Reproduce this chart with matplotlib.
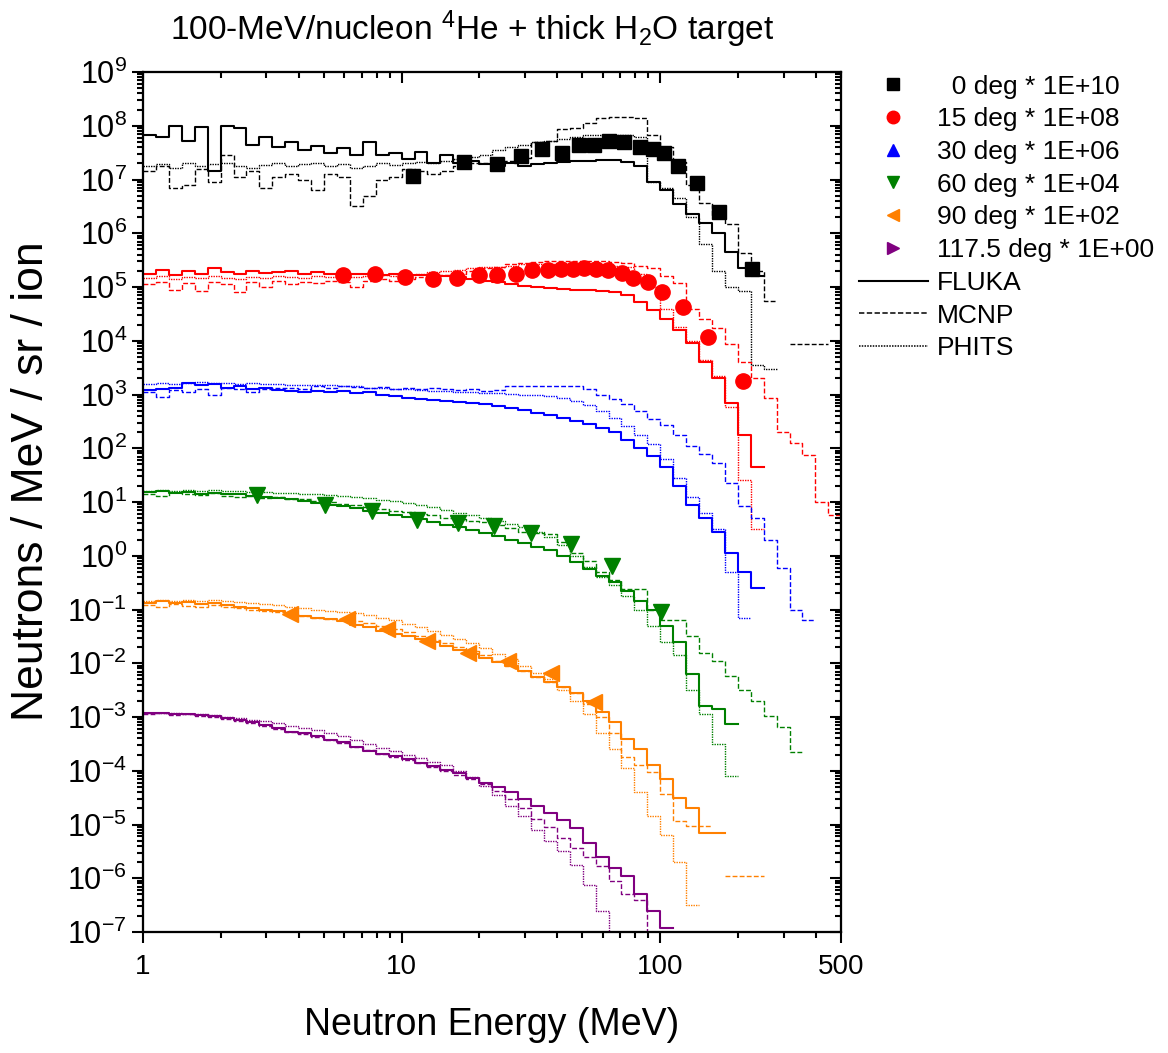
import numpy as np
import matplotlib
matplotlib.use("Agg")
import matplotlib.pyplot as plt
from matplotlib.lines import Line2D
from matplotlib.ticker import FixedLocator, FixedFormatter, LogLocator, NullFormatter, LogFormatterSciNotation

plt.rcParams["font.family"] = "Liberation Sans"
plt.rcParams["mathtext.fontset"] = "custom"
plt.rcParams["mathtext.rm"] = "Liberation Sans"
plt.rcParams["mathtext.default"] = "regular"

nan = np.nan

# histogram bin edges, 20 bins per decade from 1 MeV to 500 MeV
edges = np.logspace(0, 2.7, 55)

# log10 of the plotted spectra (already multiplied by the angle factor)
fluka_00 = [7.83, 7.80, 8.00, 7.72, 7.98, 7.15, 8.00, 7.95, 7.65, 7.80,
            7.60, 7.70, 7.55, 7.62, 7.50, 7.58, 7.45, 7.70, 7.45, 7.50,
            7.38, 7.52, 7.30, 7.45, 7.30, 7.35, 7.28, 7.25, 7.30, 7.25,
            7.28, 7.30, 7.32, 7.35, 7.35, 7.37, 7.37, 7.33, 7.25, 6.95,
            6.80, 6.55, 6.35, 6.20, 6.00, 5.65, 5.35, 5.20]
mcnp_00 = [7.15, 7.25, 6.85, 6.90, 7.20, 6.95, 7.45, 7.05, 7.15, 6.85,
           7.05, 7.10, 7.00, 6.80, 7.10, 7.05, 6.50, 6.70, 7.00, 7.05,
           7.20, 7.15, 7.10, 7.15, 7.25, 7.30, 7.30, 7.35, 7.35, 7.40,
           7.70, 7.72, 7.94, 7.95, 8.05, 8.15, 8.17, 8.17, 8.15, 7.83,
           7.60, 7.33, 6.90, 6.56, 6.30, 6.17, 5.63, 5.30, 4.74, nan,
           3.94, 3.94, 3.94]
phits_00 = [7.25, 7.28, 7.22, 7.30, 7.25, 7.28, 7.30, 7.25, 7.22, 7.27,
            7.30, 7.25, 7.28, 7.30, 7.26, 7.28, 7.22, 7.25, 7.30, 7.27,
            7.30, 7.32, 7.30, 7.35, 7.38, 7.42, 7.45, 7.55, 7.60, 7.65,
            7.70, 7.72, 7.75, 7.80, 7.82, 7.83, 7.83, 7.82, 7.80, 6.95,
            6.85, 6.65, 6.30, 5.80, 5.30, 5.00, 4.93, 3.54, 3.48]

fluka_15 = [5.25, 5.32, 5.22, 5.30, 5.25, 5.35, 5.28, 5.25, 5.30, 5.26,
            5.28, 5.30, 5.24, 5.27, 5.25, 5.26, 5.24, 5.25, 5.23, 5.24,
            5.22, 5.22, 5.20, 5.20, 5.18, 5.15, 5.12, 5.10, 5.05, 5.02,
            5.00, 4.98, 4.96, 4.95, 4.95, 4.93, 4.90, 4.86, 4.72, 4.58,
            4.40, 4.20, 3.95, 3.60, 3.30, 2.85, 2.25, 1.65]
mcnp_15 = [5.05, 5.10, 4.95, 5.08, 4.92, 5.10, 5.05, 4.90, 5.10, 5.00,
           5.12, 5.05, 5.10, 5.08, 5.12, 5.10, 5.00, 5.12, 5.15, 5.12,
           5.15, 5.18, 5.20, 5.22, 5.25, 5.30, 5.35, 5.38, 5.42, 5.45,
           5.47, 5.48, 5.48, 5.48, 5.48, 5.48, 5.47, 5.45, 5.40, 5.35,
           5.20, 5.07, 4.59, 4.40, 4.24, 3.94, 3.60, 3.30, 2.94, 2.30,
           2.10, 1.87, 1.00, 0.76]
phits_15 = [5.17, 5.20, 5.15, 5.18, 5.16, 5.20, 5.17, 5.15, 5.18, 5.17,
            5.20, 5.18, 5.17, 5.20, 5.18, 5.20, 5.19, 5.20, 5.22, 5.20,
            5.22, 5.25, 5.28, 5.30, 5.32, 5.35, 5.37, 5.38, 5.40, 5.42,
            5.43, 5.43, 5.43, 5.43, 5.42, 5.42, 5.40, 5.37, 5.25, 5.00,
            4.60, 4.25, 4.00, 3.65, 3.35, 2.76, 1.41, 0.50]

fluka_30 = [3.08, 3.10, 3.12, 3.22, 3.18, 3.20, 3.12, 3.15, 3.10, 3.12,
            3.08, 3.07, 3.05, 3.07, 3.05, 3.06, 3.03, 3.04, 3.00, 2.97,
            2.94, 2.92, 2.90, 2.88, 2.86, 2.84, 2.82, 2.78, 2.75, 2.71,
            2.66, 2.61, 2.56, 2.50, 2.45, 2.38, 2.30, 2.15, 2.00, 1.85,
            1.65, 1.30, 0.95, 0.70, 0.45, 0.05, -0.30, -0.60]
mcnp_30 = [3.05, 2.95, 3.08, 3.05, 3.10, 3.00, 3.12, 3.10, 3.05, 3.10,
           3.12, 3.13, 3.10, 3.15, 3.12, 3.15, 3.14, 3.12, 3.14, 3.10,
           3.12, 3.10, 3.12, 3.10, 3.08, 3.10, 3.07, 3.08, 3.15, 3.15,
           3.15, 3.15, 3.15, 3.15, 3.10, 3.00, 2.91, 2.82, 2.70, 2.55,
           2.43, 2.25, 2.05, 1.90, 1.72, 1.35, 0.93, 0.70, 0.30, -0.22,
           -1.00, -1.20]
phits_30 = [3.20, 3.22, 3.20, 3.22, 3.23, 3.22, 3.22, 3.20, 3.22, 3.20,
            3.20, 3.18, 3.18, 3.17, 3.17, 3.15, 3.15, 3.13, 3.12, 3.10,
            3.10, 3.08, 3.07, 3.06, 3.05, 3.04, 3.03, 3.02, 3.01, 3.00,
            2.99, 2.97, 2.93, 2.88, 2.80, 2.70, 2.57, 2.42, 2.25, 2.07,
            1.80, 1.45, 1.10, 0.80, 0.50, -0.30, -1.15]

fluka_60 = [1.18, 1.20, 1.17, 1.19, 1.15, 1.17, 1.14, 1.15, 1.12, 1.10,
            1.08, 1.05, 1.02, 0.98, 0.95, 0.92, 0.88, 0.83, 0.80, 0.76,
            0.72, 0.68, 0.63, 0.58, 0.53, 0.48, 0.42, 0.36, 0.30, 0.24,
            0.17, 0.10, 0.00, -0.12, -0.25, -0.37, -0.48, -0.65, -0.85, -1.00,
            -1.30, -1.60, -2.20, -2.80, -2.85, -3.13]
mcnp_60 = [1.15, 1.12, 1.18, 1.15, 1.13, 1.16, 1.12, 1.10, 1.12, 1.08,
           1.10, 1.06, 1.05, 1.02, 1.00, 0.97, 0.95, 0.90, 0.87, 0.84,
           0.81, 0.78, 0.75, 0.71, 0.68, 0.65, 0.62, 0.57, 0.52, 0.45,
           0.43, 0.40, 0.25, 0.06, -0.10, -0.31, -0.45, -0.61, -0.62, -1.00,
           -1.19, -1.19, -1.50, -1.80, -1.95, -2.24, -2.50, -2.70, -2.98, -3.19,
           -3.65]
phits_60 = [1.20, 1.22, 1.20, 1.23, 1.20, 1.22, 1.20, 1.20, 1.18, 1.18,
            1.17, 1.16, 1.15, 1.14, 1.13, 1.12, 1.10, 1.07, 1.04, 1.01,
            0.98, 0.94, 0.90, 0.85, 0.80, 0.75, 0.70, 0.65, 0.60, 0.54,
            0.45, 0.35, 0.20, 0.00, -0.20, -0.40, -0.55, -0.75, -1.00, -1.30,
            -1.60, -1.85, -2.50, -2.95, -3.50, -4.10]

fluka_90 = [-0.87, -0.85, -0.88, -0.86, -0.90, -0.88, -0.92, -0.95, -0.97, -1.00,
            -1.02, -1.08, -1.13, -1.15, -1.18, -1.22, -1.28, -1.33, -1.40, -1.45,
            -1.50, -1.55, -1.60, -1.68, -1.75, -1.83, -1.90, -1.98, -2.06, -2.15,
            -2.25, -2.35, -2.45, -2.55, -2.70, -2.90, -3.10, -3.40, -3.60, -3.90,
            -4.15, -4.50, -4.70, -5.15, -5.15]
mcnp_90 = [-0.92, -0.95, -0.90, -0.93, -0.95, -0.92, -0.96, -0.98, -1.00, -1.03,
           -1.05, -1.08, -1.12, -1.15, -1.18, -1.20, -1.22, -1.25, -1.30, -1.36,
           -1.42, -1.50, -1.56, -1.62, -1.70, -1.78, -1.85, -1.95, -2.05, -2.15,
           -2.25, -2.35, -2.45, -2.55, -2.75, -3.00, -3.30, -3.74, -3.90, -4.02,
           -4.43, -4.93, -5.02, -5.02, nan, -5.96, -5.96, -5.96]
phits_90 = [-0.84, -0.83, -0.85, -0.82, -0.84, -0.83, -0.85, -0.86, -0.88, -0.90,
            -0.92, -0.95, -0.97, -1.00, -1.03, -1.05, -1.07, -1.10, -1.15, -1.20,
            -1.27, -1.33, -1.40, -1.47, -1.55, -1.62, -1.72, -1.82, -1.93, -2.05,
            -2.18, -2.30, -2.50, -2.70, -2.95, -3.30, -3.60, -3.95, -4.40, -4.85,
            -5.20, -5.69, -6.50]

fluka_117 = [-2.93, -2.92, -2.95, -2.94, -2.97, -2.98, -3.02, -3.05, -3.10, -3.15,
             -3.20, -3.27, -3.30, -3.36, -3.42, -3.46, -3.55, -3.63, -3.68, -3.73,
             -3.78, -3.85, -3.92, -3.98, -4.05, -4.13, -4.22, -4.30, -4.40, -4.52,
             -4.65, -4.78, -4.92, -5.07, -5.35, -5.60, -5.80, -5.96, -6.30, -6.60,
             -6.93]
mcnp_117 = [-2.95, -2.93, -2.96, -2.95, -2.98, -3.00, -3.03, -3.07, -3.12, -3.16,
            -3.22, -3.27, -3.31, -3.37, -3.43, -3.49, -3.55, -3.62, -3.68, -3.74,
            -3.80, -3.86, -3.93, -4.00, -4.08, -4.15, -4.25, -4.37, -4.52, -4.70,
            -4.89, -5.05, -5.25, -5.44, -5.60, -5.78, -6.06, -6.30, -6.41, -7.10]
phits_117 = [-2.92, -2.93, -2.92, -2.95, -2.95, -2.97, -3.00, -3.02, -3.05, -3.08,
             -3.12, -3.16, -3.20, -3.25, -3.30, -3.35, -3.42, -3.50, -3.57, -3.64,
             -3.70, -3.77, -3.83, -3.90, -4.00, -4.12, -4.28, -4.45, -4.65, -4.85,
             -5.10, -5.30, -5.50, -5.76, -6.13, -6.60, -7.10]

# measured points (energy in MeV, log10 of plotted value)
exp00_e = [11.1, 17.4, 23.4, 29.0, 35.0, 41.8, 48.6, 55.6, 63.5, 72.6, 83.7, 94.0,
           103.6, 117.4, 139.0, 169.0, 227.0]
exp00_y = [7.06, 7.33, 7.28, 7.44, 7.56, 7.50, 7.65, 7.65, 7.72, 7.69, 7.61, 7.57,
           7.50, 7.26, 6.93, 6.39, 5.33]
exp15_e = [5.94, 7.9, 10.3, 13.2, 16.4, 19.9, 23.4, 27.7, 32.0, 36.9, 41.4, 46.0,
           50.8, 56.5, 62.9, 71.3, 78.6, 89.9, 101.8, 122.7, 153.4, 209.5]
exp15_y = [5.22, 5.24, 5.19, 5.15, 5.17, 5.22, 5.22, 5.24, 5.31, 5.31, 5.33, 5.33,
           5.35, 5.33, 5.31, 5.26, 5.17, 5.09, 4.91, 4.63, 4.07, 3.26]
exp60_e = [2.76, 5.06, 7.69, 11.5, 16.5, 22.8, 31.7, 45.3, 65.2, 100.9]
exp60_y = [1.13, 0.94, 0.83, 0.67, 0.61, 0.56, 0.43, 0.22, -0.19, -1.04]
exp90_e = [3.7, 6.15, 8.79, 12.55, 18.1, 25.8, 37.9, 55.6]
exp90_y = [-1.09, -1.17, -1.37, -1.59, -1.80, -1.96, -2.19, -2.72]

angles = ["  0 deg * 1E+10", "15 deg * 1E+08", "30 deg * 1E+06",
          "60 deg * 1E+04", "90 deg * 1E+02", "117.5 deg * 1E+00"]
colors = ["#000000", "#FF0000", "#0000FF", "#008000", "#FF8000", "#800080"]
markers = ["s", "o", "^", "v", "<", ">"]

fig = plt.figure(figsize=(11.68, 10.53), dpi=100)
ax = fig.add_axes([143 / 1168, 1 - 932 / 1053, 698 / 1168, 860 / 1053])


def hist(vals, color, ls, lw):
    v = 10 ** np.array(vals, dtype=float)
    x = edges[:len(v) + 1]
    ax.step(x, np.append(v, v[-1]), where="post", color=color, ls=ls, lw=lw)


sims = [(fluka_00, mcnp_00, phits_00), (fluka_15, mcnp_15, phits_15),
        (fluka_30, mcnp_30, phits_30), (fluka_60, mcnp_60, phits_60),
        (fluka_90, mcnp_90, phits_90), (fluka_117, mcnp_117, phits_117)]
for (f, m, p), c in zip(sims, colors):
    hist(m, c, (0, (3.5, 1.6)), 1.0)
    hist(p, c, (0, (1, 0.8)), 1.0)
    hist(f, c, "-", 1.5)

ax.plot(exp00_e, 10 ** np.array(exp00_y), "s", color=colors[0], ms=10, zorder=5)
ax.plot(exp15_e, 10 ** np.array(exp15_y), "o", color=colors[1], ms=11, zorder=5)
ax.plot(exp60_e, 10 ** np.array(exp60_y), "v", color=colors[3], ms=12, zorder=5)
ax.plot(exp90_e, 10 ** np.array(exp90_y), "<", color=colors[4], ms=12, zorder=5)

ax.set_xscale("log")
ax.set_yscale("log")
ax.set_xlim(1, 500)
ax.set_ylim(1e-7, 1e9)

ax.xaxis.set_major_locator(FixedLocator([1, 10, 100, 500]))
ax.xaxis.set_major_formatter(FixedFormatter(["1", "10", "100", "500"]))
ax.xaxis.set_minor_locator(LogLocator(base=10, subs=np.arange(2, 10), numticks=50))
ax.xaxis.set_minor_formatter(NullFormatter())
ax.yaxis.set_major_locator(LogLocator(base=10, numticks=40))
ax.yaxis.set_major_formatter(LogFormatterSciNotation())
ax.yaxis.set_minor_locator(LogLocator(base=10, subs=np.arange(2, 10), numticks=200))
ax.yaxis.set_minor_formatter(NullFormatter())
ax.tick_params(which="both", direction="out", width=1.5)
ax.tick_params(which="major", length=8)
ax.tick_params(which="minor", length=4)
ax.tick_params(axis="x", pad=8, labelsize=20)
ax.tick_params(axis="y", labelsize=22)

# inward ticks on the top and right sides
axt = ax.twiny()
axt.set_xscale("log")
axt.set_xlim(1, 500)
axt.xaxis.set_major_locator(FixedLocator([1, 10, 100]))
axt.xaxis.set_minor_locator(LogLocator(base=10, subs=np.arange(2, 10), numticks=50))
axt.xaxis.set_major_formatter(NullFormatter())
axt.xaxis.set_minor_formatter(NullFormatter())
axt.tick_params(which="both", direction="in", width=1.5)
axt.tick_params(which="major", length=8)
axt.tick_params(which="minor", length=4)

axr = ax.twinx()
axr.set_yscale("log")
axr.set_ylim(1e-7, 1e9)
axr.yaxis.set_major_locator(LogLocator(base=10, numticks=40))
axr.yaxis.set_minor_locator(LogLocator(base=10, subs=np.arange(2, 10), numticks=200))
axr.yaxis.set_major_formatter(NullFormatter())
axr.yaxis.set_minor_formatter(NullFormatter())
axr.tick_params(which="both", direction="in", width=1.5)
axr.tick_params(which="major", length=8)
axr.tick_params(which="minor", length=4)

for a in (ax, axt, axr):
    for s in a.spines.values():
        s.set_linewidth(1.5)

handles = []
for lab, c, mk in zip(angles, colors, markers):
    handles.append(Line2D([], [], ls="none", marker=mk, color=c, ms=9, label=lab))
handles.append(Line2D([], [], color="k", lw=1.5, label="FLUKA"))
handles.append(Line2D([], [], color="k", lw=1.1, ls=(0, (3.5, 1.6)), label="MCNP"))
handles.append(Line2D([], [], color="k", lw=1.1, ls=(0, (1, 0.8)), label="PHITS"))
ax.legend(handles=handles, loc="upper left", bbox_to_anchor=(1.026, 0.997),
          frameon=False, fontsize=19, handlelength=2.6, handletextpad=0.35,
          labelspacing=0.33, borderaxespad=0, borderpad=0)

fig.text(0.404, 0.972, r"100-MeV/nucleon $^{4}$He + thick H$_{2}$O target",
         ha="center", va="center", fontsize=24)
fig.text(0.421, 0.027, "Neutron Energy (MeV)", ha="center", va="center", fontsize=27)
fig.text(0.027, 0.543, "Neutrons / MeV / sr / ion", ha="center", va="center",
         rotation=90, fontsize=32)

fig.savefig("out.png", dpi=100)
